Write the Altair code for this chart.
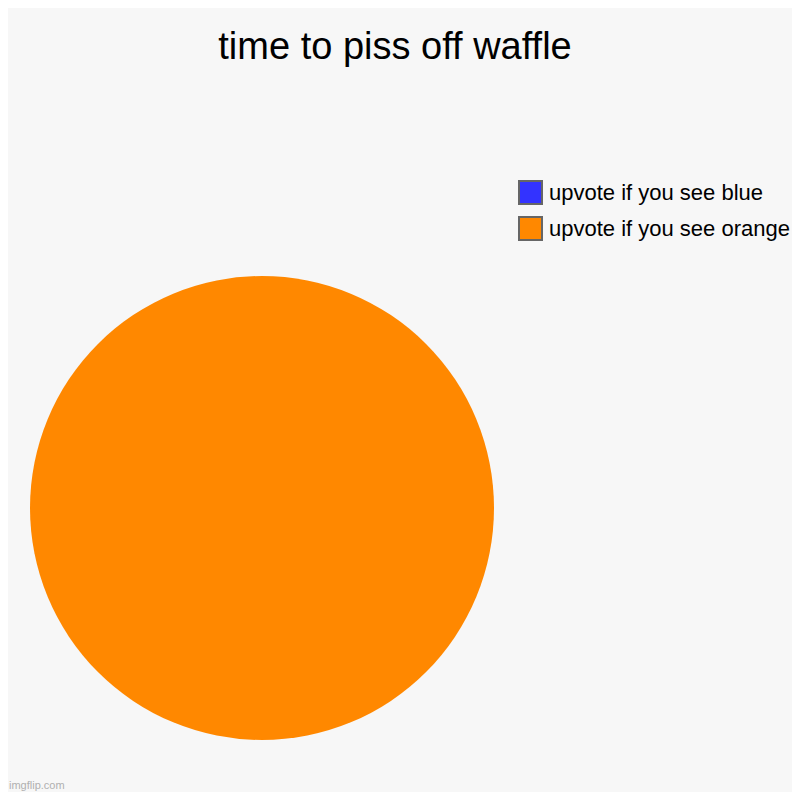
import altair as alt
import pandas as pd

categories = ["upvote if you see blue", "upvote if you see orange"]
values = [0, 100]
colors = ["#3333ff", "#ff8800"]
order = [0, 1]
title_text = "time to piss off waffle"
watermark = ["imgflip.com"]

df = pd.DataFrame({"category": categories, "value": values, "order": order})

pie = alt.Chart(df).mark_arc(radius=232, strokeOpacity=0.45, stroke="#b06000").encode(
    theta=alt.Theta("value:Q", stack=True),
    order=alt.Order("order:Q"),
    x=alt.value(254),
    y=alt.value(500),
    strokeWidth=alt.condition("datum.value == 0", alt.value(1), alt.value(0)),
    color=alt.Color(
        "category:N",
        scale=alt.Scale(domain=categories, range=colors),
        sort=categories,
        legend=alt.Legend(
            orient="none",
            legendX=510,
            legendY=172,
            title=None,
            padding=0,
            symbolType="square",
            symbolSize=529,
            symbolStrokeColor="#666666",
            symbolStrokeWidth=2,
            symbolOpacity=1,
            labelFontSize=22,
            labelFont="Liberation Sans",
            labelColor="black",
            labelOffset=6,
            rowPadding=5,
            labelLimit=400,
        ),
    ),
)

wm = alt.Chart(pd.DataFrame({"t": watermark})).mark_text(
    align="left", baseline="bottom", fontSize=11, font="Liberation Sans", color="#b0b0b0"
).encode(text="t:N", x=alt.value(1), y=alt.value(783))

chart = alt.layer(pie, wm).properties(
    width=784,
    height=784,
    autosize=alt.AutoSizeParams(type="none"),
    padding=0,
    background="#f7f7f7",
    title=alt.TitleParams(
        title_text,
        fontSize=38,
        font="Liberation Sans",
        fontWeight="normal",
        color="black",
        anchor="middle",
        dy=63,
        dx=-5,
    ),
).configure_view(stroke=None)

chart.save("out.html", embed_options={"renderer": "svg", "actions": False})
